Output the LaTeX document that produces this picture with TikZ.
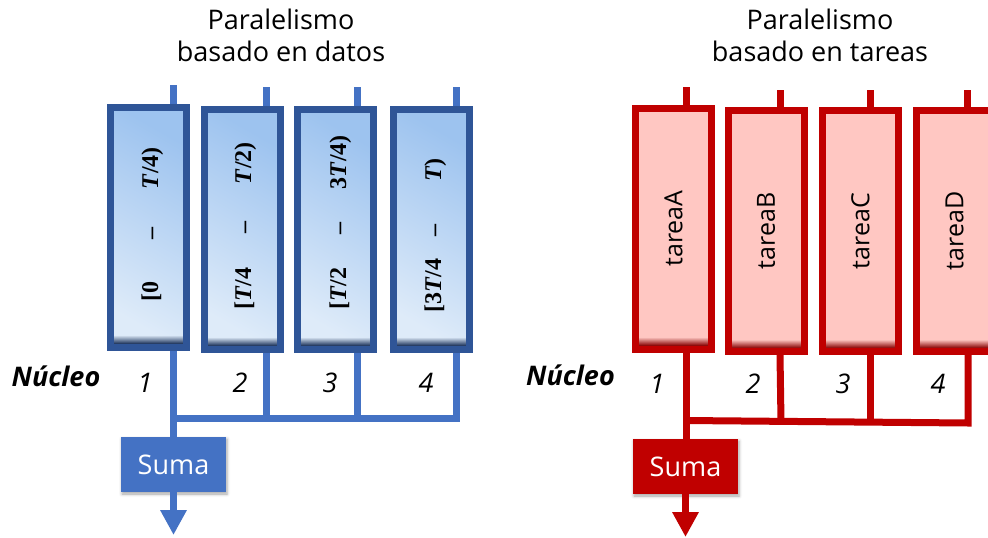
\documentclass[tikz,border=0pt]{standalone}
\usepackage{fontspec}
\newfontfamily\osans{Open Sans}
\newfontfamily\rngfont{Liberation Serif}
\usetikzlibrary{arrows.meta,calc,fadings,shadows.blur}
\definecolor{dblue}{HTML}{2F5597}
\definecolor{mblue}{HTML}{4472C4}
\definecolor{lblue}{HTML}{DEEBF9}
\definecolor{sblue}{HTML}{9DC3EF}
\definecolor{dred}{HTML}{C00000}
\definecolor{pinkfill}{HTML}{FFC7C2}
\tikzfading[name=fadeup, top color=transparent!100, bottom color=transparent!0]
\begin{document}
\begin{tikzpicture}[x=1pt,y=-1pt,
  blueline/.style={draw=mblue, line width=7pt},
  redline/.style={draw=dred, line width=7pt},
  datbox/.style={minimum width=76pt, minimum height=240pt, inner sep=0pt, outer sep=0pt,
    top color=sblue, bottom color=lblue, shading angle=-30},
  tskbox/.style={fill=pinkfill, minimum width=76pt, minimum height=241pt, inner sep=0pt,
    outer sep=0pt, font=\osans\fontsize{25}{30}\selectfont},
  rng/.style={rotate=90, inner sep=0pt, font=\rngfont\fontsize{24}{28}\selectfont\bfseries},
  ttl/.style={align=center, anchor=north, inner sep=0pt, font=\osans\fontsize{27}{32}\selectfont},
  core/.style={inner sep=0pt, anchor=base, font=\osans\bfseries\itshape\fontsize{27}{32}\selectfont},
  num/.style={inner sep=0pt, anchor=base, font=\osans\itshape\fontsize{27}{32}\selectfont},
  sumbox/.style={minimum width=105pt, minimum height=55pt, inner sep=0pt, text=white,
    font=\osans\fontsize{27}{32}\selectfont,
    blur shadow={shadow xshift=1pt, shadow yshift=-2pt, shadow opacity=35, shadow blur radius=3pt}},
  outarrow/.style={-{Triangle[width=25pt,length=25pt]}},
]
\useasboundingbox (0,0) rectangle (988,538);
\begin{scope}
\clip (0,0) rectangle (988,538);

% ---------------- data parallelism ----------------
\node[ttl] (tL) at (281,9) {Paralelismo\\basado en datos};

% input stubs
\coordinate (s1) at (173,85);
\coordinate (s2) at (266,87);
\coordinate (s3) at (357,87);
\coordinate (s4) at (456,87);

\node[datbox] (b1) at (148.5,227) {};
\node[datbox] (b2) at (242,229) {};
\node[datbox] (b3) at (335,229) {};
\node[datbox] (b4) at (431,229) {};

\foreach \b/\s in {b1/s1,b2/s2,b3/s3,b4/s4}{
  \draw[blueline] (\s) -- (\s |- \b.north);
  \fill[dblue!60!black, path fading=fadeup]
    ($(\b.south west)+(3.5pt,3.5pt)$) rectangle ($(\b.south east)+(-3.5pt,12pt)$);
  \draw[dblue, line width=7pt] (\b.south west) rectangle (\b.north east);
}

% interval labels
\node[rng, anchor=base west] (r1a) at (158,302) {[0};
\node[rng, anchor=base] (r1b) at (158,233) {–};
\node[rng, anchor=base east] (r1c) at (158,147) {\textit{T}/4)};

\node[rng, anchor=base west] (r2a) at (251,310) {[\textit{T}/4};
\node[rng, anchor=base] (r2b) at (251,227) {–};
\node[rng, anchor=base east] (r2c) at (251,142) {\textit{T}/2)};

\node[rng, anchor=base west] (r3a) at (346,310) {[\textit{T}/2};
\node[rng, anchor=base] (r3b) at (346,228) {–};
\node[rng, anchor=base east] (r3c) at (346,135) {3\textit{T}/4)};

\node[rng, anchor=base west] (r4a) at (441,313) {[3\textit{T}/4};
\node[rng, anchor=base] (r4b) at (441,230) {–};
\node[rng, anchor=base east] (r4c) at (441,158) {\textit{T})};

% core labels
\node[core] (nL) at (56,386) {Núcleo};
\node[num] (n1) at (145,392) {1};
\node[num] (n2) at (240,392) {2};
\node[num] (n3) at (330,392) {3};
\node[num] (n4) at (426,392) {4};

% reduction
\node[sumbox, fill=mblue] (sumL) at (173.5,464.5) {Suma};
\coordinate (busL) at (173,418);
\coordinate (outL) at (173.5,535);
\draw[blueline] (s1 |- b1.south) ++(0,3.5) -- (s1 |- sumL.north);
\draw[blueline] (s4 |- b4.south) ++(0,3.5) -- (s4 |- busL) -- (busL);
\draw[blueline] (s2 |- b2.south) ++(0,3.5) -- (s2 |- busL);
\draw[blueline] (s3 |- b3.south) ++(0,3.5) -- (s3 |- busL);
\draw[blueline, outarrow] (sumL.south) -- (outL);

% ---------------- task parallelism ----------------
\node[ttl] (tR) at (820,9) {Paralelismo\\basado en tareas};

\coordinate (tA) at (686,87);
\coordinate (tB) at (780,90);
\coordinate (tC) at (870,90);
\coordinate (tD) at (967,90);

\node[tskbox] (bA) at (673.5,228.5) {\rotatebox{90}{tareaA}};
\node[tskbox] (bB) at (766,231) {\rotatebox{90}{tareaB}};
\node[tskbox] (bC) at (860.5,231) {\rotatebox{90}{tareaC}};
\node[tskbox] (bD) at (954.5,231) {\rotatebox{90}{tareaD}};

\foreach \b/\s in {bA/tA,bB/tB,bC/tC,bD/tD}{
  \draw[redline] (\s) -- (\s |- \b.north);
  \fill[dred!70!black, path fading=fadeup]
    ($(\b.south west)+(3.5pt,3.5pt)$) rectangle ($(\b.south east)+(-3.5pt,12pt)$);
  \draw[dred, line width=7pt] (\b.south west) rectangle (\b.north east);
}

\node[core] (nR) at (570.5,385) {Núcleo};
\node[num] (m1) at (657,393) {1};
\node[num] (m2) at (753,393) {2};
\node[num] (m3) at (843,393) {3};
\node[num] (m4) at (938,393) {4};

\node[sumbox, fill=dred] (sumR) at (685.5,466.5) {Suma};
\coordinate (busR) at (685,420.5);
\coordinate (busRe) at (968,423);
\coordinate (outR) at (685.5,537);
\draw[redline] (tA |- bA.south) ++(0,3.5) -- (tA |- sumR.north);
\draw[redline] (busRe |- bD.south) ++(0,3.5) -- (busRe) -- (busR);
\draw[redline] (tB |- bB.south) ++(0,3.5) -- (781,421.5);
\draw[redline] (tC |- bC.south) ++(0,3.5) -- (870,422);
\draw[redline, outarrow] (sumR.south) -- (outR);
\end{scope}
\end{tikzpicture}
\end{document}
